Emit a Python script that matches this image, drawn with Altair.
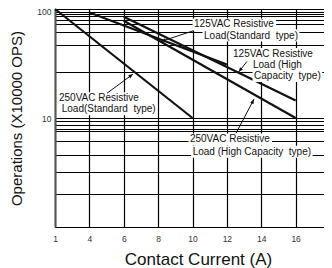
import math
import altair as alt
import pandas as pd

# ---- data ----
# The first vertical gridline is labelled "1" although it sits one 2 A step left of "4".
x_tick_values = [2, 4, 6, 8, 10, 12, 14, 16, 18]
x_tick_labels = ["1", "4", "6", "8", "10", "12", "14", "16", "18"]
y_grid_values = [1, 2, 3.2, 4.6, 6.2, 7.6, 8, 8.6, 9.4, 10,
                 26.5, 47, 62, 73.5, 80, 85.5, 90, 94, 100]
y_label_values = [10, 100]

series_names = [
    "250VAC Resistive Load (Standard type)",
    "125VAC Resistive Load (Standard type)",
    "125VAC Resistive Load (High Capacity type)",
    "250VAC Resistive Load (High Capacity type)",
]
series_x = [[2, 10], [4, 12], [6, 16], [6, 16]]
series_y = [[100, 10], [93, 31], [85, 14.5], [78, 10]]

ann_text = ["250VAC Resistive", "Load(Standard\u00a0 type)",
            "125VAC Resistive", "Load(Standard\u00a0 type)",
            "125VAC Resistive", "Load (High", "Capacity\u00a0 type)",
            "250VAC Resistive", "Load (High Capacity\u00a0 type)"]
ann_x = [2.23, 2.39, 10.09, 10.67, 12.36, 13.52, 13.58, 9.85, 10.01]
ann_y = [15.15, 12.0, 72.1, 57.1, 38.6, 30.7, 24.3, 6.36, 4.9]

arrow_x1 = [5.03, 10.03, 13.17, 12.53]
arrow_y1 = [16.9, 63.0, 33.0, 7.24]
arrow_x2 = [6.54, 8.17, 12.68, 13.58]
arrow_y2 = [25.3, 50.4, 26.4, 14.9]

# ---- layout ----
W, H = 275, 218          # scale range (the "18" gridline falls at the picture's right edge)
PW = 269                 # visible plot width (page is only 316 px wide inside the margins)
X_DOM = [2, 18]
Y_DOM = [1, 100]
FONT = "Liberation Sans"
ANN_SIZE = 10


def px(x):
    return (x - X_DOM[0]) / (X_DOM[1] - X_DOM[0]) * W


def py(y):
    return (math.log10(Y_DOM[1]) - math.log10(y)) / (math.log10(Y_DOM[1]) - math.log10(Y_DOM[0])) * H


def from_px(p):
    return X_DOM[0] + p / W * (X_DOM[1] - X_DOM[0])


def from_py(p):
    lo, hi = math.log10(Y_DOM[0]), math.log10(Y_DOM[1])
    return 10 ** (hi - p / H * (hi - lo))


# approximate Arial/Liberation Sans advance widths (em) to size the white label boxes
CW = {" ": 0.278, "\u00a0": 0.278, "V": 0.667, "A": 0.667, "C": 0.722, "R": 0.722,
      "e": 0.556, "s": 0.5, "i": 0.222, "t": 0.278, "v": 0.5, "L": 0.556, "o": 0.556,
      "a": 0.556, "d": 0.556, "(": 0.333, ")": 0.333, "S": 0.667, "n": 0.556,
      "r": 0.333, "y": 0.5, "p": 0.556, "H": 0.722, "g": 0.556, "h": 0.556, "c": 0.5}


def text_width(s):
    return sum(CW.get(ch, 0.556) for ch in s) * ANN_SIZE


rows = []
for name, xs, ys in zip(series_names, series_x, series_y):
    for xv, yv in zip(xs, ys):
        rows.append({"series": name, "x": xv, "y": yv})
lines_df = pd.DataFrame(rows)

ann_df = pd.DataFrame({"text": ann_text, "x": ann_x, "y": ann_y})
box_rows = []
for t, xv, yv in zip(ann_text, ann_x, ann_y):
    l = px(xv) - 1.5
    r = px(xv) + text_width(t) + 1.5
    c = py(yv)
    box_rows.append({"bx": from_px(l), "bx2": from_px(r),
                     "by": from_py(c - 6), "by2": from_py(c + 6)})
box_df = pd.DataFrame(box_rows)

angles = []
for x1, y1, x2, y2 in zip(arrow_x1, arrow_y1, arrow_x2, arrow_y2):
    dx = px(x2) - px(x1)
    dy = py(y2) - py(y1)
    angles.append(math.degrees(math.atan2(dx, -dy)) % 360)
arrow_df = pd.DataFrame({"x": arrow_x1, "y": arrow_y1, "x2": arrow_x2,
                         "y2": arrow_y2, "angle": angles})

label_expr = " : ".join(
    [f"datum.value == {v} ? '{l}'" for v, l in zip(x_tick_values, x_tick_labels)]
) + " : ''"
y_label_expr = "indexof(" + str(y_label_values) + ", datum.value) >= 0 ? format(datum.value, 'd') : ''"

x_scale = alt.Scale(domain=X_DOM, nice=False, zero=False, range=[0, W])
y_scale = alt.Scale(type="log", domain=Y_DOM, nice=False)

x_axis = alt.Axis(values=x_tick_values, labelExpr=label_expr, grid=True,
                  gridColor="#000", gridWidth=1.2, gridOpacity=1,
                  ticks=False, domain=True, domainColor="#000", domainWidth=1.2,
                  labelOverlap=False, labelSeparation=0,
                  labelFont=FONT, labelFontSize=8.5, labelColor="#333",
                  labelPadding=7, labelFlush=False,
                  title="Contact Current (A)", titleFont=FONT, titleFontSize=17,
                  titleFontWeight="normal", titleColor="#111",
                  titleX=143, titleY=24)
y_axis = alt.Axis(values=y_grid_values, labelExpr=y_label_expr, grid=True,
                  gridColor="#000", gridWidth=1.2, gridOpacity=1,
                  ticks=False, domain=True, domainColor="#555", domainWidth=2,
                  labelOverlap=False, labelFont=FONT, labelFontSize=8.5,
                  labelColor="#333", labelPadding=4,
                  labelOffset={"condition": {"test": f"datum.value == {Y_DOM[1]}", "value": 2.5},
                               "value": 0},
                  title="Operations (X10000 OPS)", titleFont=FONT, titleFontSize=15,
                  titleFontWeight="normal", titleColor="#111", titleX=-31)

lines = alt.Chart(lines_df).mark_line(color="#111", strokeWidth=2.2).encode(
    x=alt.X("x:Q", scale=x_scale, axis=x_axis),
    y=alt.Y("y:Q", scale=y_scale, axis=y_axis),
    detail="series:N",
)

boxes = alt.Chart(box_df).mark_rect(color="white", opacity=1).encode(
    x=alt.X("bx:Q", scale=x_scale, axis=x_axis), x2="bx2:Q",
    y=alt.Y("by:Q", scale=y_scale, axis=y_axis), y2="by2:Q",
)

texts = alt.Chart(ann_df).mark_text(
    align="left", baseline="middle", font=FONT, fontSize=ANN_SIZE, color="#111",
).encode(x=alt.X("x:Q", scale=x_scale, axis=x_axis),
         y=alt.Y("y:Q", scale=y_scale, axis=y_axis), text="text:N")

arrows = alt.Chart(arrow_df).mark_rule(color="#111", strokeWidth=1).encode(
    x=alt.X("x:Q", scale=x_scale, axis=x_axis),
    y=alt.Y("y:Q", scale=y_scale, axis=y_axis),
    x2="x2:Q", y2="y2:Q",
)

heads = alt.Chart(arrow_df).mark_point(
    shape="M0,0L-0.4,1L0.4,1Z", filled=True, size=90, color="#111", opacity=1,
).encode(
    x=alt.X("x2:Q", scale=x_scale, axis=x_axis),
    y=alt.Y("y2:Q", scale=y_scale, axis=y_axis),
    angle=alt.Angle("angle:Q", scale=None),
)

chart = alt.layer(lines, boxes, texts, arrows, heads).properties(
    width=PW, height=H,
    autosize=alt.AutoSizeParams(type="none"),
    padding={"left": 47, "right": 0, "top": 1, "bottom": 41},
).configure_view(strokeWidth=0).configure_axisX(labelOverlap=False)

chart.save("out.html", embed_options={"renderer": "svg", "actions": False})
